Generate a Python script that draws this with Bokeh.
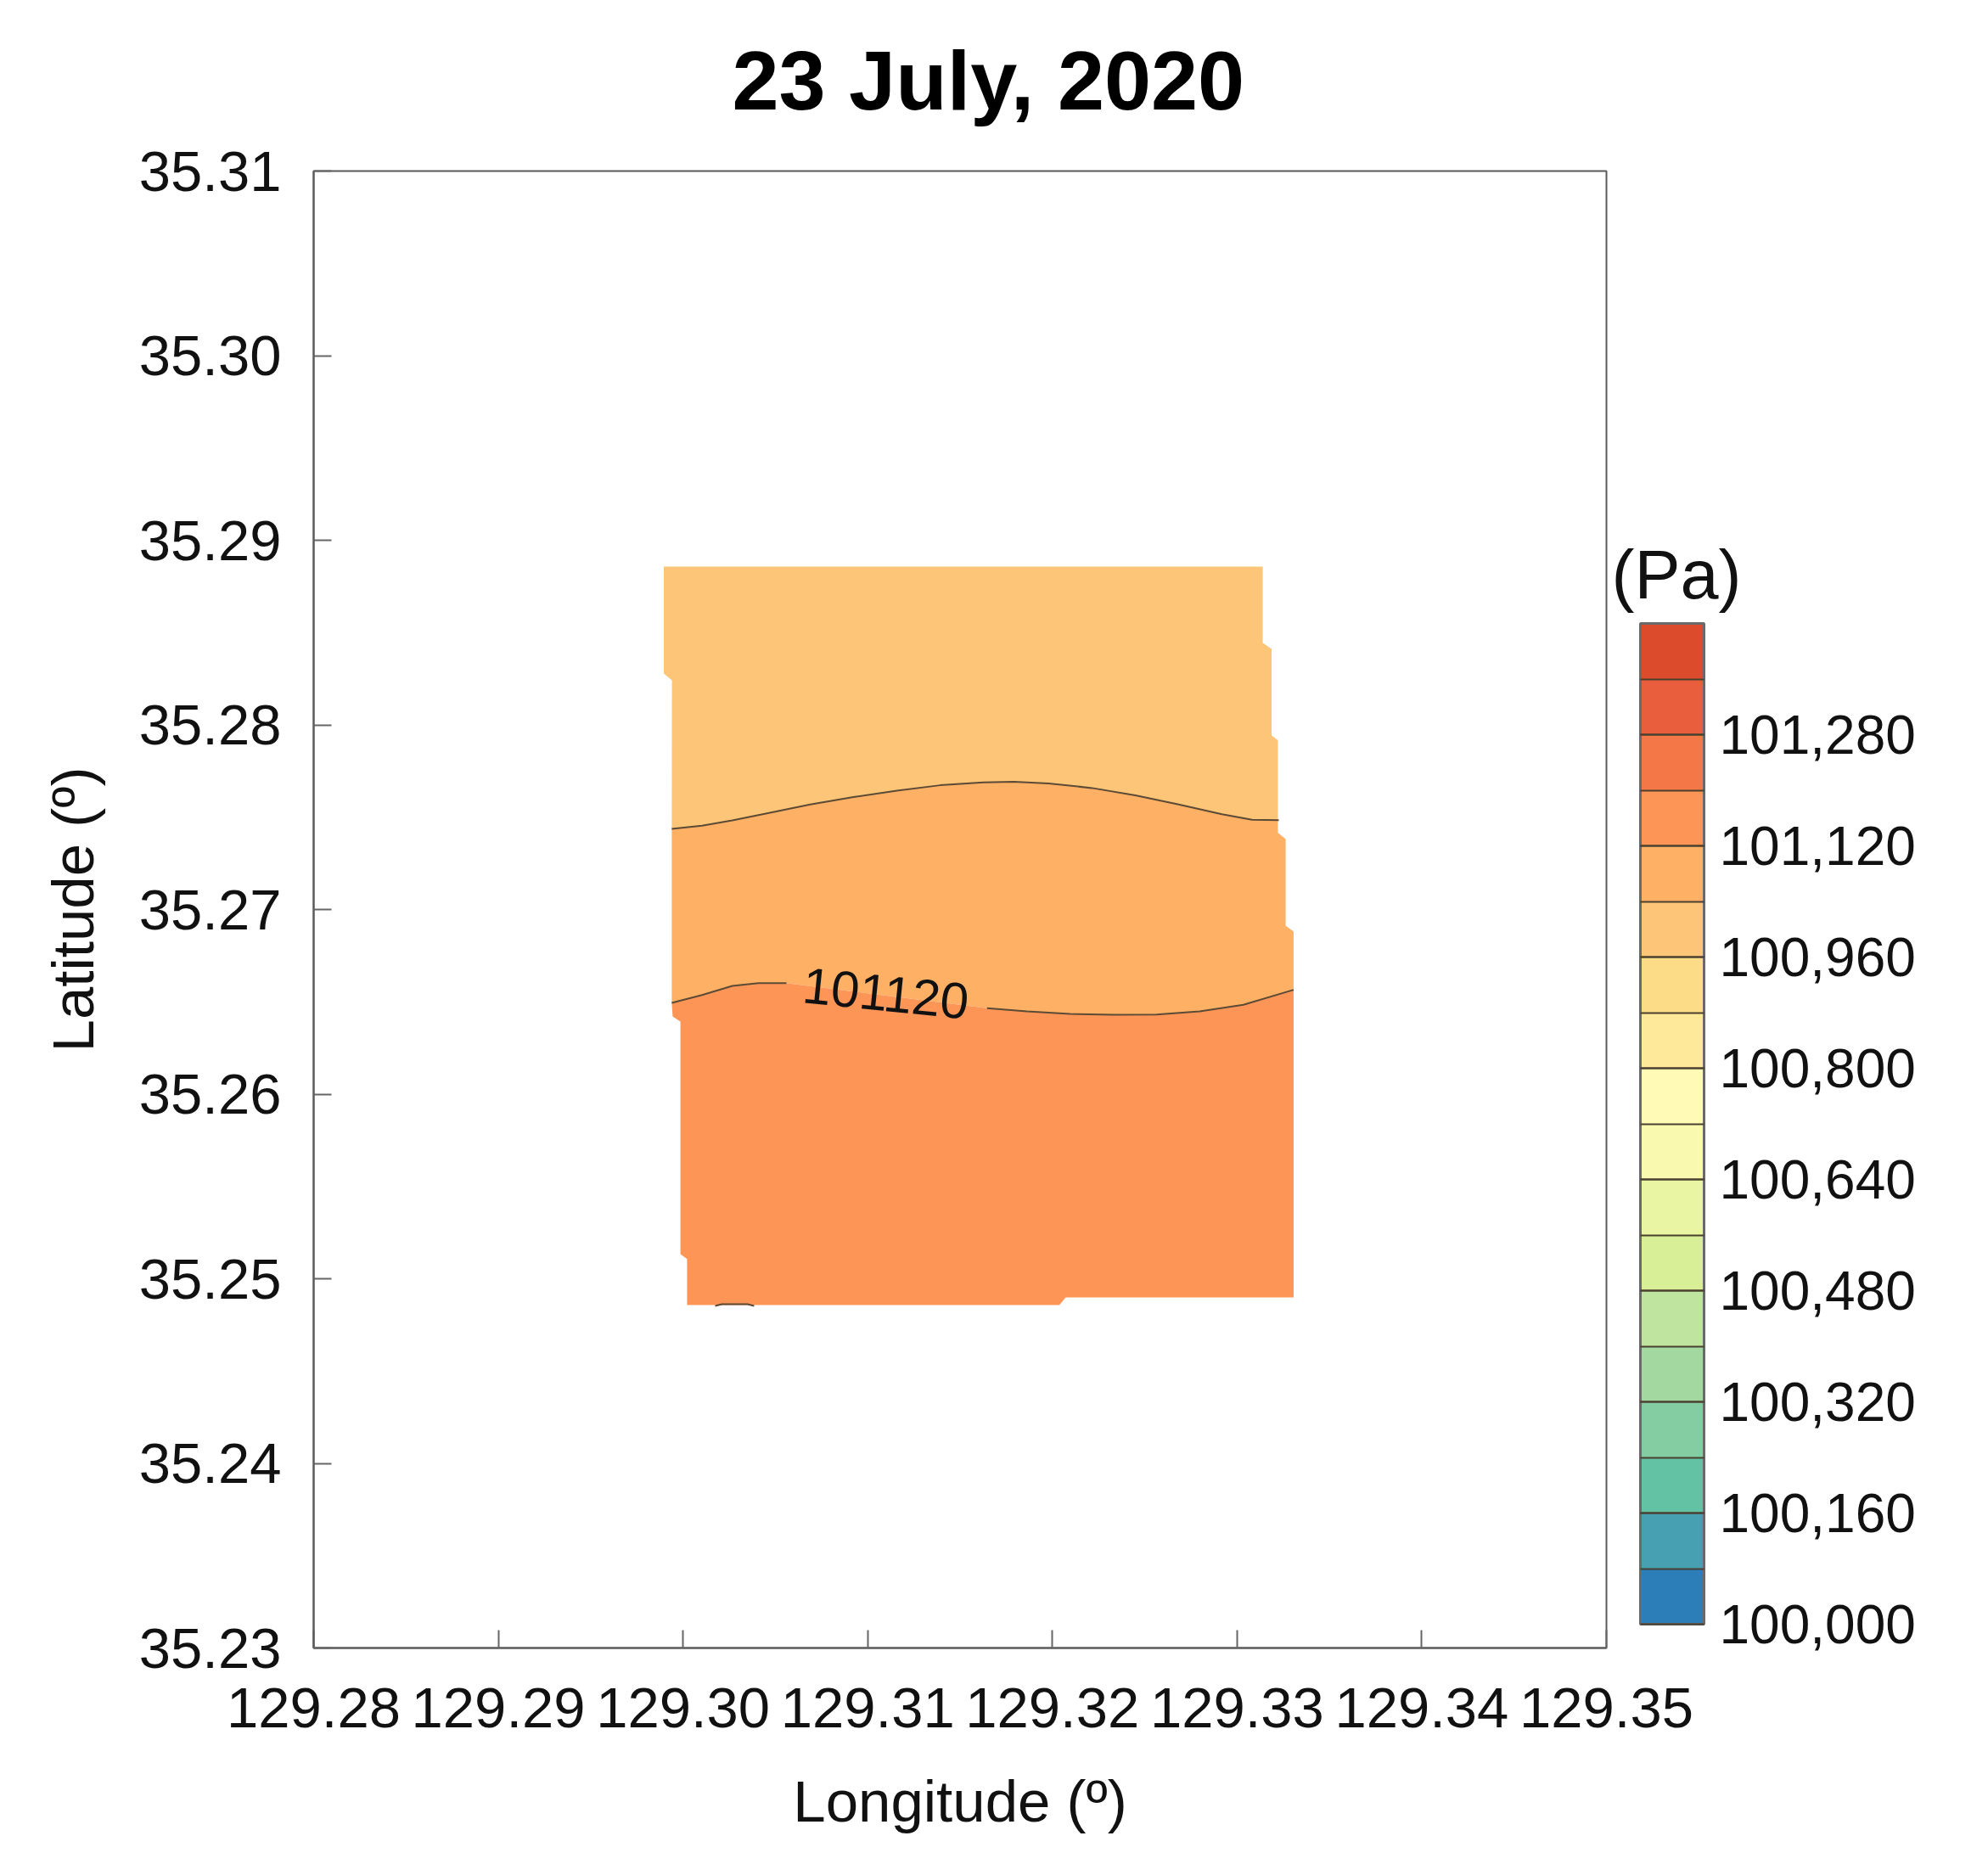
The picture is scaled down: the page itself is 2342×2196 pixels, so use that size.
from bokeh.embed import file_html
from bokeh.resources import INLINE
from bokeh.plotting import figure
from bokeh.models import (ColorBar, FixedTicker, LinearAxis, LinearColorMapper,
                          NumeralTickFormatter, Range1d)
from bokeh.core.properties import value

FONT = "Liberation Sans"

title_text = "23 July, 2020"
x_label = "Longitude (º)"
y_label = "Latitude (º)"
unit_label = "(Pa)"
contour_label = "101120"

x_ticks = [129.28, 129.29, 129.30, 129.31, 129.32, 129.33, 129.34, 129.35]
y_ticks = [35.23, 35.24, 35.25, 35.26, 35.27, 35.28, 35.29, 35.30, 35.31]

level_low = 100000
level_high = 101440
level_lines = [100080, 100160, 100240, 100320, 100400, 100480, 100560, 100640, 100720,
               100800, 100880, 100960, 101040, 101120, 101200, 101280, 101360]
level_ticks = [100000, 100160, 100320, 100480, 100640, 100800, 100960, 101120, 101280]
palette = ["#2B7EB8", "#479FB2", "#63C2A3", "#84CDA3", "#A3D9A1", "#BFE4A0", "#D8EF98",
           "#E9F5A3", "#F9FAB0", "#FFFBB7", "#FEE99B", "#FDDC88", "#FDC577", "#FEB064",
           "#FC9556", "#F47747", "#E95F3D", "#DD4B2D"]

# region colours: 100960-101040, 101040-101120, 101120-101200
color_north = "#FDC577"
color_middle = "#FEB064"
color_south = "#FC9556"

# contour 101040 (west to east)
upper_lon = [129.29939, 129.30103, 129.30267, 129.30454, 129.30689, 129.30923, 129.31158,
             129.31392, 129.31626, 129.31792, 129.31980, 129.32215, 129.32449, 129.32684,
             129.32918, 129.33081, 129.33226]
upper_lat = [35.27437, 35.27454, 35.27483, 35.27521, 35.27569, 35.27609, 35.27644,
             35.27673, 35.27688, 35.27692, 35.27683, 35.27658, 35.27618, 35.27569,
             35.27516, 35.27486, 35.27484]

# contour 101120, west part and east part (broken by its label)
lower_w_lon = [129.29939, 129.30103, 129.30267, 129.30408, 129.30560]
lower_w_lat = [35.26494, 35.26537, 35.26586, 35.26601, 35.26601]
lower_e_lon = [129.31646, 129.31862, 129.32096, 129.32331, 129.32564, 129.32798, 129.33034, 129.33306]
lower_e_lat = [35.26465, 35.26448, 35.26434, 35.26430, 35.26431, 35.26448, 35.26484, 35.26565]

# small closed-off contour on the south edge
small_lon = [129.30174, 129.30210, 129.30350, 129.30385]
small_lat = [35.24853, 35.24862, 35.24862, 35.24853]

# domain edge pieces
north_edge_lon = [129.29939, 129.29940, 129.29896, 129.29896, 129.33139, 129.33139, 129.33187,
                  129.33187, 129.33221, 129.33221]
north_edge_lat = [35.27437, 35.28241, 35.28278, 35.28857, 35.28857, 35.28445, 35.28411,
                  35.27943, 35.27917, 35.27484]
east_mid_lon = [129.33306, 129.33306, 129.33263, 129.33263, 129.33221, 129.33221]
east_mid_lat = [35.26565, 35.26880, 35.26913, 35.27382, 35.27416, 35.27484]
south_edge_lon = [129.33306, 129.33306, 129.32072, 129.32038, 129.30022, 129.30022, 129.29986,
                  129.29986, 129.29944, 129.29939]
south_edge_lat = [35.26565, 35.24899, 35.24899, 35.24857, 35.24857, 35.25107, 35.25133,
                  35.26393, 35.26421, 35.26494]

label_lon = [129.31098]
label_lat = [35.26545]
label_angle = [-5.8]
unit_lat = 35.28815

lower_lon = lower_w_lon + lower_e_lon
lower_lat = lower_w_lat + lower_e_lat

p = figure(width=2326, height=2200, output_backend="svg", toolbar_location=None,
           x_range=Range1d(129.28, 129.35), y_range=Range1d(35.23, 35.31),
           min_border_left=369, min_border_right=434, min_border_top=221, min_border_bottom=239,
           tools="", background_fill_color="white", border_fill_color="white",
           styles={"margin-top": "-20px"})
p.grid.visible = False

p.title.text = title_text
p.title.align = "left"
p.title.offset = 493
p.title.standoff = 100
p.title.vertical_align = "top"
p.title.text_line_height = 0.9
p.title.text_font = FONT
p.title.text_font_size = "99px"
p.title.text_font_style = "bold"
p.title.text_color = "#000000"

p.outline_line_color = "#5a5a5a"
p.outline_line_width = 2

for ax, ticks, fmt, lab in [(p.xaxis[0], x_ticks, "0.00", x_label), (p.yaxis[0], y_ticks, "0.00", y_label)]:
    ax.ticker = FixedTicker(ticks=ticks)
    ax.formatter = NumeralTickFormatter(format=fmt)
    ax.axis_label = lab
    ax.axis_label_text_font = FONT
    ax.axis_label_text_font_size = "69px"
    ax.axis_label_text_font_style = "normal"
    ax.axis_label_text_color = "#111111"
    ax.major_label_text_font = FONT
    ax.major_label_text_font_size = "67px"
    ax.major_label_text_color = "#111111"
    ax.major_tick_in = 21
    ax.major_tick_out = 0
    ax.minor_tick_line_color = None
    ax.major_tick_line_color = "#666666"
    ax.major_tick_line_width = 2
    ax.axis_line_color = "#5a5a5a"
    ax.axis_line_width = 2
p.xaxis[0].major_label_standoff = 47
p.xaxis[0].axis_label_standoff = 46
p.yaxis[0].major_label_standoff = 38
p.yaxis[0].major_label_orientation = "horizontal"
p.yaxis[0].axis_label_standoff = 36

north_x = upper_lon[::-1] + north_edge_lon
north_y = upper_lat[::-1] + north_edge_lat
p.patch(north_x, north_y, fill_color=color_north, line_color=None)

middle_x = upper_lon + east_mid_lon[::-1] + lower_lon[::-1]
middle_y = upper_lat + east_mid_lat[::-1] + lower_lat[::-1]
p.patch(middle_x, middle_y, fill_color=color_middle, line_color=None)

south_x = lower_lon + south_edge_lon
south_y = lower_lat + south_edge_lat
p.patch(south_x, south_y, fill_color=color_south, line_color=None)

for xs, ys in [(upper_lon, upper_lat), (lower_w_lon, lower_w_lat), (lower_e_lon, lower_e_lat), (small_lon, small_lat)]:
    p.line(xs, ys, line_color="#5b4a36", line_width=2)

p.text(label_lon, label_lat, text=[contour_label], angle=label_angle, angle_units="deg",
       text_font=value(FONT), text_font_size=value("60px"), text_color="#111111",
       text_align="center", text_baseline="middle")

mapper = LinearColorMapper(palette=palette, low=level_low, high=level_high)
cb = ColorBar(color_mapper=mapper,
              ticker=FixedTicker(ticks=level_ticks, minor_ticks=level_lines),
              formatter=NumeralTickFormatter(format="0,0"),
              location=(1563, 28), width=75, height=1179, padding=0, margin=0,
              background_fill_color=None, border_line_color=None,
              bar_line_color="#6a6a6a", bar_line_width=3,
              major_tick_in=75, major_tick_out=0, major_tick_line_color="#4a4030", major_tick_line_width=2,
              minor_tick_in=75, minor_tick_out=0, minor_tick_line_color="#4a4030", minor_tick_line_width=2,
              label_standoff=18,
              major_label_text_font=FONT, major_label_text_font_size="64px", major_label_text_color="#111111")
p.add_layout(cb, "center")

# colour bar heading, placed through a right-hand axis with one labelled position
unit_axis = LinearAxis(ticker=FixedTicker(ticks=[unit_lat]),
                       major_label_overrides={unit_lat: unit_label},
                       axis_line_color=None, major_tick_line_color=None, minor_tick_line_color=None,
                       major_label_standoff=0, major_label_text_font=FONT,
                       major_label_text_font_size="81px", major_label_text_color="#111111")
p.add_layout(unit_axis, "right")

open("out.html", "w").write(file_html(p, INLINE))
